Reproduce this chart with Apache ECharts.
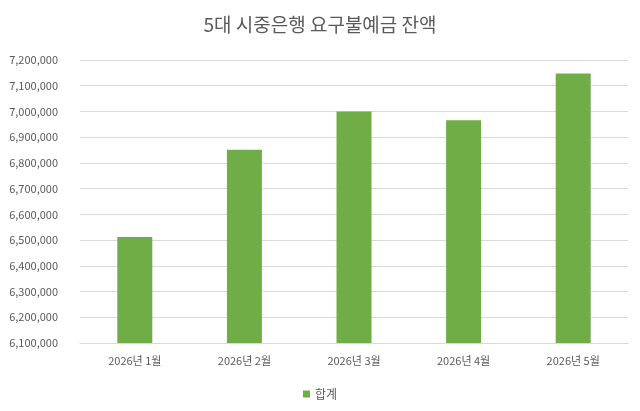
<!DOCTYPE html>
<html>
<head>
<meta charset="utf-8">
<script src="https://cdn.jsdelivr.net/npm/echarts@6/dist/echarts.min.js"></script>
<style>html,body{margin:0;padding:0;background:#fff}#chart{width:640px;height:411px}</style>
</head>
<body>
<div id="chart"></div>
<script>
// 월별 잔액 데이터
const categories = ['2026년 1월', '2026년 2월', '2026년 3월', '2026년 4월', '2026년 5월'];
const totals = [6512000, 6851000, 7000000, 6966000, 7148000];
const seriesName = '합계';

const font = '"Noto Sans CJK KR", "Noto Sans", sans-serif';
let chart = echarts.init(document.getElementById('chart'));
let option = {
  backgroundColor: '#fff',
  textStyle: { fontFamily: font },
  title: {
    text: '5대 시중은행 요구불예금 잔액',
    left: 'center',
    top: 10,
    textStyle: { fontSize: 19, fontWeight: 'normal', color: '#595959', fontFamily: font }
  },
  legend: {
    data: [seriesName],
    bottom: 6,
    itemWidth: 7,
    itemHeight: 7,
    icon: 'rect',
    textStyle: { fontSize: 12, color: '#595959' }
  },
  grid: { left: 80, right: 12, top: 60, bottom: 68 },
  xAxis: {
    type: 'category',
    data: categories,
    axisTick: { show: false },
    axisLine: { lineStyle: { color: '#d9d9d9' } },
    axisLabel: { color: '#595959', fontSize: 11, margin: 12 }
  },
  yAxis: {
    type: 'value',
    min: 6100000,
    max: 7200000,
    interval: 100000,
    axisLabel: {
      color: '#595959', fontSize: 11, margin: 22,
      formatter: v => v.toLocaleString('en-US')
    },
    splitLine: { lineStyle: { color: '#d9d9d9' } }
  },
  series: [{
    name: seriesName,
    type: 'bar',
    barWidth: 35,
    itemStyle: { color: '#70ad47' },
    data: totals
  }]
};
chart.setOption(option);
</script>
</body>
</html>
